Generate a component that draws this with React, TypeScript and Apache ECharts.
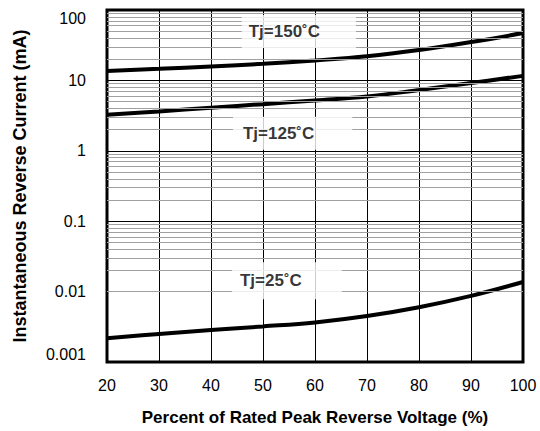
import React, { useEffect, useRef } from "react";
import * as echarts from "echarts";

const xValues = [20, 30, 40, 50, 60, 70, 80, 90, 100];
const tj150 = [13.6, 14.6, 15.8, 17.2, 19.2, 22, 27, 35, 47];
const tj125 = [3.25, 3.62, 4.1, 4.6, 5.2, 5.9, 7.3, 9.2, 11.6];
const tj25 = [0.00217, 0.0025, 0.00285, 0.0032, 0.00365, 0.0045, 0.006, 0.0087, 0.0137];
const yTickLabels = ["0.001", "0.01", "0.1", "1", "10", "100"];
const curveNames = ["Tj=150˚C", "Tj=125˚C", "Tj=25˚C"];

const decades = [0.001, 0.01, 0.1, 1, 10];
const minorMultipliers = [2, 3, 4, 5, 6, 7, 8, 9];

const FONT = "'Liberation Sans', Arial, sans-serif";

export default function App() {
  const ref = useRef<HTMLDivElement>(null);
  useEffect(() => {
    if (!ref.current) return;
    const chart = echarts.init(ref.current, null, { renderer: "svg" });
    const minorVals: number[] = [];
    decades.forEach((d) => minorMultipliers.forEach((m) => minorVals.push(+(d * m).toPrecision(3))));
    const mk = (ys: number[]) => xValues.map((x, i) => [x, ys[i]]);
    const curve = (name: string, ys: number[]) => ({
      name,
      type: "line",
      data: mk(ys),
      smooth: 0.4,
      symbol: "none",
      lineStyle: { color: "#000", width: 4 },
      z: 4,
    });
    chart.setOption({
      animation: false,
      backgroundColor: "#fff",
      textStyle: { fontFamily: FONT },
      grid: {
        left: 107,
        right: 17,
        top: 10,
        bottom: 68,
        show: true,
        borderColor: "#000",
        borderWidth: 3,
        backgroundColor: "transparent",
      },
      xAxis: {
        type: "value",
        min: 20,
        max: 100,
        interval: 10,
        name: "Percent of Rated Peak Reverse Voltage (%)",
        nameLocation: "middle",
        nameGap: 47,
        nameTextStyle: { fontWeight: "bold", fontSize: 17, color: "#000", fontFamily: FONT },
        axisLine: { show: false },
        axisTick: { show: false },
        axisLabel: { fontSize: 16, color: "#000", margin: 15, fontFamily: FONT },
        splitLine: { show: true, lineStyle: { color: "#000", width: 1 } },
      },
      yAxis: {
        type: "log",
        logBase: 10,
        min: 0.001,
        max: 100,
        name: "Instantaneous Reverse Current (mA)",
        nameLocation: "middle",
        nameGap: 78,
        nameTextStyle: { fontWeight: "bold", fontSize: 18, color: "#000", fontFamily: FONT },
        axisLine: { show: false },
        axisTick: { show: false },
        axisLabel: {
          fontSize: 16,
          color: "#000",
          margin: 21,
          fontFamily: FONT,
          verticalAlignMinLabel: "bottom",
          verticalAlignMaxLabel: "top",
          formatter: (v: number) => {
            const idx = Math.round(Math.log10(v)) + 3;
            return yTickLabels[idx] ?? String(v);
          },
        },
        splitLine: { show: true, lineStyle: { color: "#000", width: 1 } },
      },
      series: [
        {
          name: "minor",
          type: "line",
          data: [],
          silent: true,
          z: 1,
          markLine: {
            silent: true,
            symbol: ["none", "none"],
            label: { show: false },
            lineStyle: { color: "#a0a0a0", type: "solid", width: 1 },
            data: minorVals.map((v) => ({ yAxis: v })),
          },
        },
        curve(curveNames[0], tj150),
        curve(curveNames[1], tj125),
        curve(curveNames[2], tj25),
        {
          name: "labels",
          type: "scatter",
          symbolSize: 0,
          silent: true,
          z: 5,
          data: [
            { value: [56.9, 49.6], name: curveNames[0], label: { padding: [8, 36, 8, 7] } },
            { value: [55.7, 1.78], name: curveNames[1], label: { padding: [8, 38, 8, 10] } },
            { value: [54.6, 0.0143], name: curveNames[2], label: { padding: [10, 40, 10, 8] } },
          ],
          label: {
            show: true,
            position: "inside",
            formatter: "{b}",
            fontSize: 17,
            fontWeight: "bold",
            color: "#000",
            fontFamily: FONT,
            backgroundColor: "#fff",
          },
        },
      ],
    });
    return () => chart.dispose();
  }, []);
  return <div ref={ref} style={{ position: "fixed", left: 0, top: 0, width: 540, height: 431 }} />;
}
